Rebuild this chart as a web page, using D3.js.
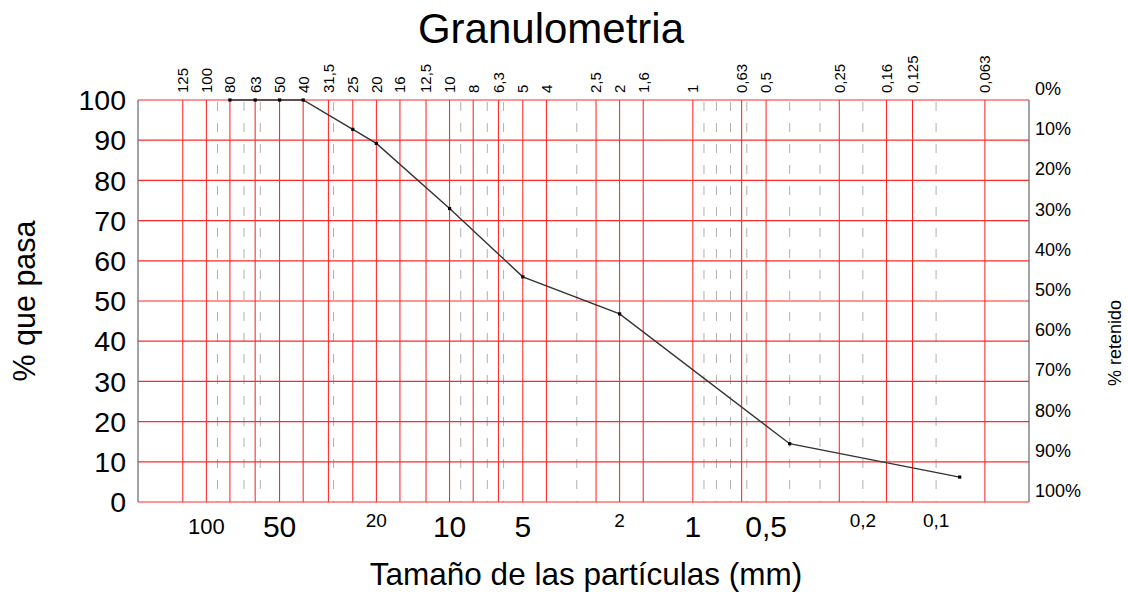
<!DOCTYPE html>
<html>
<head>
<meta charset="utf-8">
<script src="https://cdn.jsdelivr.net/npm/d3@7/dist/d3.min.js"></script>
<style>
  html, body { margin: 0; padding: 0; background: #fff; }
  svg { display: block; font-family: "Liberation Sans", Arial, sans-serif; }
</style>
</head>
<body>
<svg id="chart" width="1128" height="594"></svg>
<script>
// ---- Data ----
const sieveSizes = [125, 100, 80, 63, 50, 40, 31.5, 25, 20, 16, 12.5, 10, 8, 6.3, 5, 4, 2.5, 2, 1.6, 1, 0.63, 0.5, 0.25, 0.16, 0.125, 0.063];
const sieveLabels = ["125", "100", "80", "63", "50", "40", "31,5", "25", "20", "16", "12,5", "10", "8", "6,3", "5", "4", "2,5", "2", "1,6", "1", "0,63", "0,5", "0,25", "0,16", "0,125", "0,063"];
const auxSizes = [90, 70, 60, 30, 9, 7, 6, 3, 0.9, 0.8, 0.7, 0.6, 0.4, 0.3, 0.2, 0.1];
const sampleSizes = [80, 63, 50, 40, 25, 20, 10, 5, 2, 0.4, 0.08];
const samplePass = [100, 100, 100, 100, 92.7, 89.2, 73, 56, 46.8, 14.5, 6.2];
const yTicks = [0, 10, 20, 30, 40, 50, 60, 70, 80, 90, 100];
const retainedLabels = ["0%", "10%", "20%", "30%", "40%", "50%", "60%", "70%", "80%", "90%", "100%"];
const majorBottomValues = [50, 10, 5, 1, 0.5];
const majorBottomLabels = ["50", "10", "5", "1", "0,5"];
const minorBottomValues = [100, 20, 2, 0.2, 0.1];
const minorBottomLabels = ["100", "20", "2", "0,2", "0,1"];

// ---- Layout ----
const svg = d3.select("#chart");
const pLeft = 138, pRight = 1029, pTop = 100, pBottom = 502;

const x = d3.scaleLog().domain([191, 0.0415]).range([pLeft, pRight]);
const y = d3.scaleLinear().domain([0, 100]).range([pBottom, pTop]);

// gray dashed auxiliary lines
svg.append("g").selectAll("line").data(auxSizes).join("line")
  .attr("x1", d => x(d)).attr("x2", d => x(d))
  .attr("y1", pTop + 2).attr("y2", pBottom)
  .attr("stroke", "#b0b0b0").attr("stroke-width", 1)
  .attr("stroke-dasharray", "9,12");

// red vertical sieve lines
svg.append("g").selectAll("line").data(sieveSizes).join("line")
  .attr("x1", d => x(d)).attr("x2", d => x(d))
  .attr("y1", pTop).attr("y2", pBottom)
  .attr("stroke", "#ff1a1a").attr("stroke-width", 1);

// red horizontal lines
svg.append("g").selectAll("line").data(yTicks).join("line")
  .attr("x1", pLeft).attr("x2", pRight)
  .attr("y1", d => y(d)).attr("y2", d => y(d))
  .attr("stroke", "#ff2a2a").attr("stroke-width", 1.2);

// left & right borders
svg.append("line").attr("x1", pLeft).attr("x2", pLeft).attr("y1", pTop).attr("y2", pBottom)
  .attr("stroke", "#666").attr("stroke-width", 1.2);
svg.append("line").attr("x1", pRight).attr("x2", pRight).attr("y1", pTop).attr("y2", pBottom)
  .attr("stroke", "#666").attr("stroke-width", 1.2);

// left y labels
svg.append("g").selectAll("text").data(yTicks).join("text")
  .attr("x", 126).attr("y", d => y(d)).attr("dy", "0.36em")
  .attr("text-anchor", "end").attr("font-size", 28.5).attr("fill", "#000")
  .text(d => d);

// right retained labels
svg.append("g").selectAll("text").data(yTicks).join("text")
  .attr("x", 1035).attr("y", d => y(100 - d) - 5)
  .attr("text-anchor", "start").attr("font-size", 18).attr("fill", "#000")
  .text((d, i) => retainedLabels[i]);

// top rotated sieve labels
svg.append("g").selectAll("text").data(sieveSizes).join("text")
  .attr("transform", d => `translate(${x(d)},93) rotate(-90)`)
  .attr("dy", "0.36em")
  .attr("text-anchor", "start").attr("font-size", 15).attr("fill", "#000")
  .text((d, i) => sieveLabels[i]);

// bottom labels
svg.append("g").selectAll("text").data(majorBottomValues).join("text")
  .attr("x", d => x(d)).attr("y", 537)
  .attr("text-anchor", "middle").attr("font-size", 30).attr("fill", "#000")
  .text((d, i) => majorBottomLabels[i]);
svg.append("g").selectAll("text").data(minorBottomValues).join("text")
  .attr("x", d => x(d)).attr("y", (d, i) => i === 0 ? 534 : 527)
  .attr("text-anchor", "middle").attr("font-size", (d, i) => i === 0 ? 22 : 19).attr("fill", "#000")
  .text((d, i) => minorBottomLabels[i]);

// curve
const pts = sampleSizes.map((s, i) => [s, samplePass[i]]);
svg.append("path").datum(pts)
  .attr("d", d3.line().x(d => x(d[0])).y(d => y(d[1])))
  .attr("fill", "none").attr("stroke", "#333").attr("stroke-width", 1.4);
svg.append("g").selectAll("rect").data(pts).join("rect")
  .attr("x", d => x(d[0]) - 1.6).attr("y", d => y(d[1]) - 1.6)
  .attr("width", 3.2).attr("height", 3.2).attr("fill", "#000");

// titles
svg.append("text").attr("x", 551).attr("y", 43).attr("text-anchor", "middle")
  .attr("font-size", 42).attr("fill", "#000").text("Granulometria");
svg.append("text").attr("x", 586).attr("y", 585).attr("text-anchor", "middle")
  .attr("font-size", 31.5).attr("fill", "#000").text("Tamaño de las partículas (mm)");
svg.append("text").attr("transform", "translate(35,301) rotate(-90)")
  .attr("text-anchor", "middle").attr("font-size", 30.5).attr("fill", "#000").text("% que pasa");
svg.append("text").attr("transform", "translate(1121,343) rotate(-90)")
  .attr("text-anchor", "middle").attr("font-size", 18).attr("fill", "#000").text("% retenido");
</script>
</body>
</html>
